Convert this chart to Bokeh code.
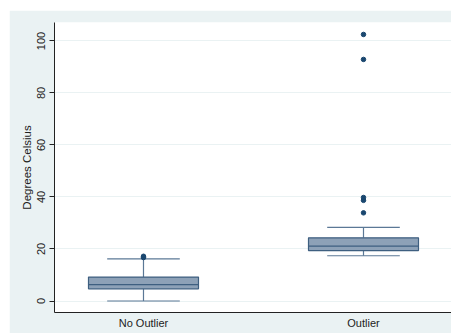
from bokeh.plotting import figure
from bokeh.models import FixedTicker, Range1d, ColumnDataSource
from bokeh.embed import file_html
from bokeh.resources import INLINE

# Box-plot summaries for the two temperature samples (degrees Celsius)
groups = ["No Outlier", "Outlier"]
q1 = [4.7, 19.4]
median = [6.3, 21.1]
q3 = [9.2, 24.3]
lower_whisker = [0.0, 17.4]
upper_whisker = [16.2, 28.3]
outlier_group = [0, 0, 1, 1, 1, 1, 1]
outlier_values = [16.7, 17.2, 33.9, 38.7, 39.8, 92.9, 102.5]
y_ticks = [0, 20, 40, 60, 80, 100]

xpos = [i + 1 for i in range(len(groups))]
box_w = 0.5
cap_w = 0.33

PANEL = "#eaf2f3"
BOX_FILL = "#8da1b7"
BOX_LINE = "#3e5f80"
WHISK = "#5b7896"
MARK = "#1a476f"

p = figure(width=442, height=323, output_backend="svg", toolbar_location=None,
           x_range=Range1d(0.5955, 2.4), y_range=Range1d(-4.42, 107.1),
           margin=(10, 0, 2, 9),
           min_border_left=45, min_border_right=0, min_border_top=12,
           min_border_bottom=21)
p.border_fill_color = PANEL
p.background_fill_color = "white"
p.outline_line_color = None

src = ColumnDataSource(dict(x=xpos, q1=q1, med=median, q3=q3,
                            lo=lower_whisker, hi=upper_whisker,
                            cl=[v - cap_w / 2 for v in xpos],
                            cr=[v + cap_w / 2 for v in xpos],
                            bl=[v - box_w / 2 for v in xpos],
                            br=[v + box_w / 2 for v in xpos]))

# whisker stems and caps
p.segment(x0="x", y0="q3", x1="x", y1="hi", source=src, line_color=WHISK, line_width=1.2)
p.segment(x0="x", y0="lo", x1="x", y1="q1", source=src, line_color=WHISK, line_width=1.2)
p.segment(x0="cl", y0="hi", x1="cr", y1="hi", source=src, line_color=WHISK, line_width=1.2)
p.segment(x0="cl", y0="lo", x1="cr", y1="lo", source=src, line_color=WHISK, line_width=1.2)

# boxes and medians
p.vbar(x="x", width=box_w, bottom="q1", top="q3", source=src,
       fill_color=BOX_FILL, line_color=BOX_LINE, line_width=1.2)
p.segment(x0="bl", y0="med", x1="br", y1="med", source=src,
          line_color=BOX_LINE, line_width=1.2)

# outside values
p.scatter([xpos[g] for g in outlier_group], outlier_values, marker="circle",
          size=4.5, fill_color=MARK, line_color=MARK)

# y axis
p.yaxis.ticker = FixedTicker(ticks=y_ticks)
p.yaxis.axis_label = "Degrees Celsius"
p.yaxis.axis_label_text_font = "Liberation Sans"
p.yaxis.axis_label_text_font_style = "normal"
p.yaxis.axis_label_text_font_size = "11.5px"
p.yaxis.axis_label_text_color = "#222222"
p.yaxis.axis_label_standoff = 2
p.yaxis.major_label_orientation = "vertical"
p.yaxis.major_label_text_font = "Liberation Sans"
p.yaxis.major_label_text_font_size = "11px"
p.yaxis.major_label_text_color = "#222222"
p.yaxis.major_label_standoff = 4
p.yaxis.major_tick_out = 5
p.yaxis.major_tick_in = 0
p.yaxis.minor_tick_line_color = None
p.yaxis.axis_line_color = "#222222"
p.yaxis.major_tick_line_color = "#222222"

# x axis with group names
p.xaxis.ticker = FixedTicker(ticks=xpos)
p.xaxis.major_label_overrides = {x: g for x, g in zip(xpos, groups)}
p.xaxis.major_label_text_font = "Liberation Sans"
p.xaxis.major_label_text_font_size = "11px"
p.xaxis.major_label_text_color = "#222222"
p.xaxis.major_label_standoff = 4
p.xaxis.major_tick_out = 0
p.xaxis.major_tick_in = 0
p.xaxis.major_tick_line_color = None
p.xaxis.minor_tick_line_color = None
p.xaxis.axis_line_color = "#222222"

p.xgrid.grid_line_color = None
p.ygrid.grid_line_color = "#eaf2f3"
p.ygrid.grid_line_width = 1

open("out.html", "w").write(file_html(p, INLINE))
